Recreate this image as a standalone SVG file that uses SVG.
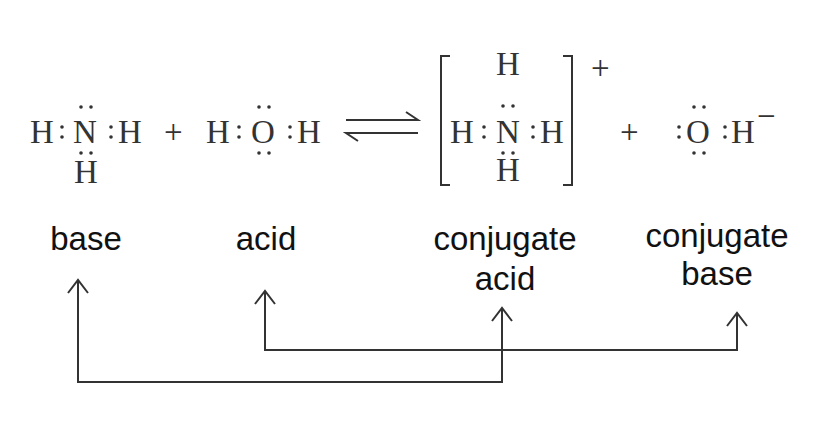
<svg xmlns="http://www.w3.org/2000/svg" width="830" height="428" viewBox="0 0 830 428">
<style>
.c{font-family:"Liberation Serif",serif;font-size:33px;fill:#333}
.l{font-family:"Liberation Sans",sans-serif;font-size:33px;fill:#111;text-anchor:middle}
.d{fill:#333}
.ln{fill:none;stroke:#333;stroke-width:2}
</style>
<defs><marker id="ah" viewBox="-14 -12 16 24" refX="0" refY="0" markerWidth="16" markerHeight="24" markerUnits="userSpaceOnUse" orient="auto-start-reverse"><path d="M-13,-10 L0,0 L-13,10" fill="none" stroke="#333" stroke-width="2"/></marker></defs>
<rect width="830" height="428" fill="#fff"/>
<g id="nh3">
<text class="c" x="30" y="143">H</text><circle class="d" cx="62" cy="127" r="1.8"/><circle class="d" cx="62" cy="137" r="1.8"/>
<text class="c" x="73" y="143">N</text><circle class="d" cx="81" cy="107" r="1.8"/><circle class="d" cx="91" cy="107" r="1.8"/><circle class="d" cx="81" cy="153" r="1.8"/><circle class="d" cx="91" cy="153" r="1.8"/>
<circle class="d" cx="111" cy="127" r="1.8"/><circle class="d" cx="111" cy="137" r="1.8"/><text class="c" x="118" y="143">H</text>
<text class="c" x="74" y="183">H</text></g>
<text class="c" x="164" y="143">+</text>
<g id="h2o">
<text class="c" x="206" y="143">H</text><circle class="d" cx="239" cy="127" r="1.8"/><circle class="d" cx="239" cy="137" r="1.8"/>
<text class="c" x="251" y="143">O</text><circle class="d" cx="259" cy="107" r="1.8"/><circle class="d" cx="269" cy="107" r="1.8"/><circle class="d" cx="259" cy="153" r="1.8"/><circle class="d" cx="269" cy="153" r="1.8"/>
<circle class="d" cx="290" cy="127" r="1.8"/><circle class="d" cx="290" cy="137" r="1.8"/><text class="c" x="297" y="143">H</text></g>
<g id="equilibrium" class="ln"><path d="M346,120 H418 L406,112"/><path d="M418,133 H346 L358,141"/></g>
<g id="nh4">
<path class="ln" d="M450,56 H441 V185 H450 M563,56 H572 V185 H563"/>
<text class="c" x="591" y="79" font-size="20">+</text>
<text class="c" x="496" y="75">H</text>
<circle class="d" cx="503" cy="106" r="1.8"/><circle class="d" cx="513" cy="106" r="1.8"/>
<text class="c" x="450" y="143">H</text><circle class="d" cx="484" cy="127" r="1.8"/><circle class="d" cx="484" cy="137" r="1.8"/>
<text class="c" x="496" y="143">N</text>
<circle class="d" cx="533" cy="127" r="1.8"/><circle class="d" cx="533" cy="137" r="1.8"/><text class="c" x="540" y="143">H</text>
<circle class="d" cx="503" cy="153" r="1.8"/><circle class="d" cx="513" cy="153" r="1.8"/>
<text class="c" x="496" y="181">H</text></g>
<text class="c" x="620" y="143">+</text>
<g id="oh">
<circle class="d" cx="679" cy="127" r="1.8"/><circle class="d" cx="679" cy="137" r="1.8"/>
<text class="c" x="686" y="143">O</text><circle class="d" cx="694" cy="107" r="1.8"/><circle class="d" cx="704" cy="107" r="1.8"/><circle class="d" cx="694" cy="153" r="1.8"/><circle class="d" cx="704" cy="153" r="1.8"/>
<circle class="d" cx="725" cy="127" r="1.8"/><circle class="d" cx="725" cy="137" r="1.8"/><text class="c" x="731" y="143">H</text>
<text class="c" x="757" y="127" font-size="20">−</text></g>
<g id="lbl-base"><text class="l" x="86" y="250">base</text></g>
<g id="lbl-acid"><text class="l" x="266" y="250">acid</text></g>
<g id="lbl-cacid"><text class="l" x="505" y="250">conjugate</text><text class="l" x="505" y="290">acid</text></g>
<g id="lbl-cbase"><text class="l" x="717" y="247">conjugate</text><text class="l" x="717" y="285">base</text></g>
<g id="connectors" class="ln">
<path d="M502,308 V382 H78 V280" marker-start="url(#ah)" marker-end="url(#ah)"/>
<path d="M737,313 V350 H265 V291" marker-start="url(#ah)" marker-end="url(#ah)"/>
</g>
</svg>
